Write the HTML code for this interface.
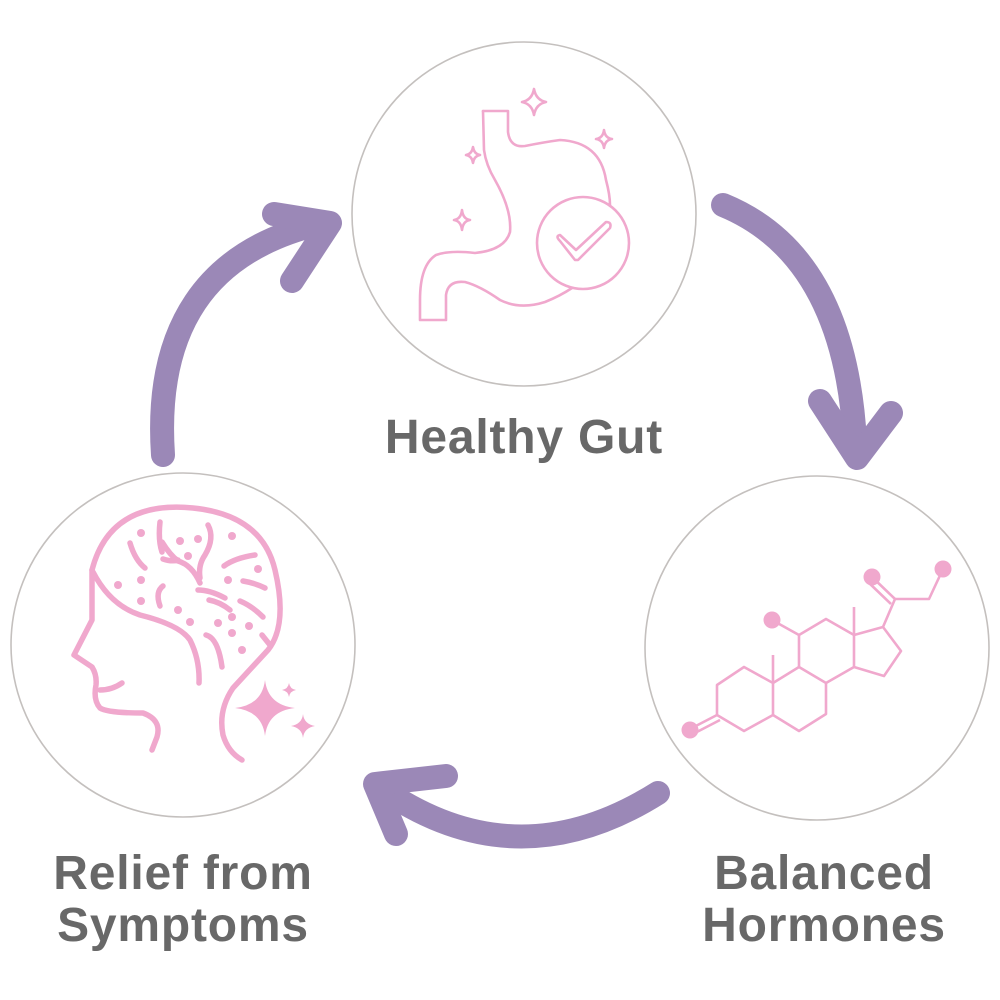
<!DOCTYPE html>
<html><head><meta charset="utf-8"><style>
body{margin:0;background:#fff;width:1000px;height:1000px;overflow:hidden}
svg{position:absolute;left:0;top:0}
.t{font-family:"Liberation Sans",sans-serif;font-weight:bold;font-size:48px;letter-spacing:0.8px;fill:#686868;text-anchor:middle}
</style></head><body>
<svg width="1000" height="1000" viewBox="0 0 1000 1000">
<g fill="none" stroke="#c4c0be" stroke-width="1.6">
<circle cx="524" cy="214" r="172"/>
<circle cx="817" cy="648" r="172"/>
<circle cx="183" cy="645" r="172"/>
</g>
<g fill="none" stroke="#9b88b7" stroke-width="24" stroke-linecap="round" stroke-linejoin="round">
<path d="M163,455 Q150,265 318,224"/>
<path d="M274,214 L330,223 L292,281"/>
<path d="M723,205 Q845,255 855,442"/>
<path d="M820,401 L857,458 L891,413"/>
<path d="M658,793 Q520,880 388,793"/>
<path d="M396,834 L375,784 L446,776"/>
</g>
<!-- stomach -->
<g fill="none" stroke="#f0a8cd" stroke-width="2.6" stroke-linejoin="round" stroke-linecap="round">
<path d="M483,111 L508,111 L508,132 Q510,148 525,146 Q545,142 560,140 Q600,142 606,180 Q610,195 610,205"/>
<path d="M483,111 L484,150 Q486,165 495,180 Q512,210 510,232 Q505,250 475,253 Q450,250 436,255 Q420,265 420,300 L420,320 L446,320 L446,295 Q448,280 465,282 Q480,286 500,300 Q520,310 545,302 Q560,296 572,288"/>
<circle cx="583" cy="243" r="46"/>
<path d="M560,241 Q555,236 560,235 L576,250 L606,222 Q612,222 610,228 L578,260 L575,260 Z"/>
<path d="M534,89 Q536,100 546,102 Q536,104 534,115 Q532,104 522,102 Q532,100 534,89Z"/>
<path d="M604,130 Q605,138 612,139 Q605,140 604,148 Q603,140 596,139 Q603,138 604,130Z"/>
<path d="M473,147 Q474,154 480,155 Q474,156 473,163 Q472,156 466,155 Q472,154 473,147Z"/>
<path d="M462,210 Q463,219 470,220 Q463,221 462,230 Q461,221 454,220 Q461,219 462,210Z"/>
</g>
<!-- brain -->
<g fill="none" stroke="#f0a8cd" stroke-width="5.5" stroke-linecap="round" stroke-linejoin="round">
<path d="M92,570 Q110,500 193,508 Q262,515 275,570 Q288,625 268,650 L233,688 Q218,710 223,735 Q228,752 242,760"/>
<path d="M92,570 L92,620 L74,655 L92,667 Q97,675 96,685 Q93,700 100,708 Q108,713 143,713 Q162,720 157,737 L152,750"/>
<path d="M100,690 Q112,690 122,683"/>
<path d="M93,572 Q110,605 140,615 Q180,625 190,640 Q200,660 199,683"/>
<path d="M130,543 Q135,560 145,568 M162,542 Q170,555 178,561 Q192,565 200,583 M160,522 Q158,540 162,552 M163,559 Q172,562 178,560"/>
<path d="M208,525 Q215,538 205,555 Q198,565 200,578"/>
<path d="M224,566 Q235,558 255,555 M243,581 Q255,583 265,588 M209,600 Q220,602 230,610 M240,601 Q252,606 263,617 M206,635 Q218,638 222,667 M262,635 L270,645"/>
<path d="M163,586 Q155,592 160,606 M198,590 Q210,590 225,598"/>
</g>
<g fill="#f0a8cd">
<circle cx="141" cy="533" r="4"/><circle cx="180" cy="541" r="4"/><circle cx="198" cy="539" r="4"/><circle cx="232" cy="536" r="4"/>
<circle cx="188" cy="556" r="4"/><circle cx="118" cy="585" r="4"/><circle cx="141" cy="580" r="4"/><circle cx="228" cy="580" r="4"/>
<circle cx="258" cy="569" r="4"/><circle cx="141" cy="601" r="4"/><circle cx="178" cy="610" r="4"/><circle cx="190" cy="622" r="4"/>
<circle cx="218" cy="623" r="4"/><circle cx="232" cy="617" r="4"/><circle cx="232" cy="633" r="4"/><circle cx="249" cy="626" r="4"/><circle cx="242" cy="650" r="4"/>
<path d="M265,680 Q268,705 295,708 Q268,711 265,736 Q262,711 235,708 Q262,705 265,680Z"/>
<path d="M289,683 Q290,689 296,690 Q290,691 289,697 Q288,691 282,690 Q288,689 289,683Z"/>
<path d="M303,714 Q304,724 315,726 Q304,728 303,738 Q302,728 291,726 Q302,724 303,714Z"/>
</g>
<!-- molecule -->
<g fill="none" stroke="#f0a8cd" stroke-width="2.6" stroke-linejoin="round">
<path d="M717,685 L744,667 L773,683 L773,715 L744,731 L717,715 Z"/>
<path d="M773,683 L799,667 L826,683 L826,714 L799,731 L773,715"/>
<path d="M799,667 L799,635 L826,619 L854,635 L854,667 L826,683"/>
<path d="M854,635 L883,627 L901,651 L884,676 L854,667"/>
<path d="M773,683 L773,655 M854,635 L854,607 M799,635 L772,620"/>
<path d="M717,715 L690,729 M720,720 L693,734"/>
<path d="M883,627 L895,599 L929,599 L943,569"/>
<path d="M895,599 L872,577 M891,604 L868,582"/>
</g>
<g fill="#f0a8cd">
<circle cx="690" cy="730" r="8.5"/><circle cx="772" cy="620" r="8.5"/><circle cx="872" cy="577" r="8.5"/><circle cx="943" cy="569" r="8.5"/>
</g>
<text class="t" x="524" y="453">Healthy Gut</text>
<text class="t" x="183" y="889">Relief from</text>
<text class="t" x="183" y="941">Symptoms</text>
<text class="t" x="824" y="889">Balanced</text>
<text class="t" x="824" y="941">Hormones</text>
</svg>
</body></html>
